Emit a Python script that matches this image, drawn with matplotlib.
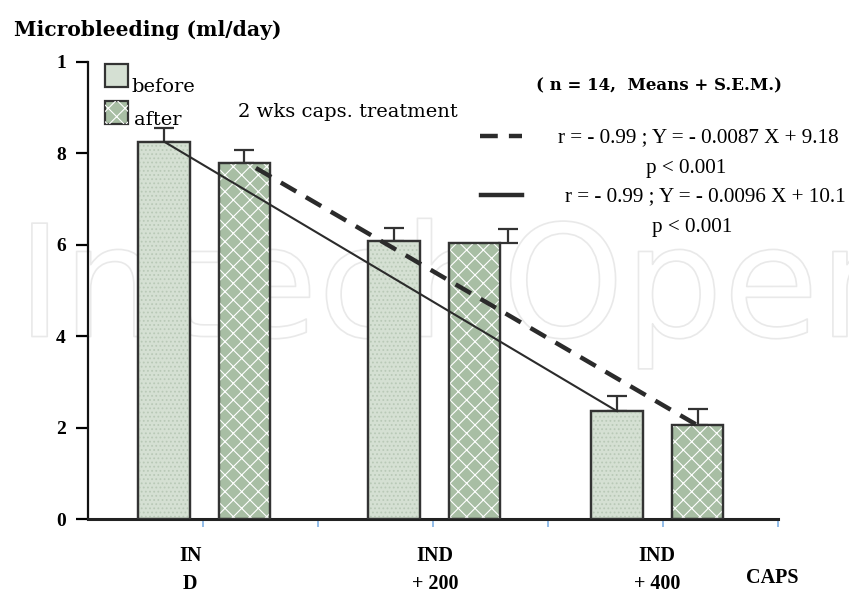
import matplotlib.pyplot as plt
import matplotlib.patheffects as pe
import numpy as np

# data
groups = ["IN\nD", "IND\n+ 200", "IND\n+ 400"]
before = [8.26, 6.08, 2.36]
after = [7.80, 6.05, 2.05]
before_sem = [0.30, 0.28, 0.33]
after_sem = [0.28, 0.29, 0.35]
ytick_vals = [0, 2, 4, 6, 8, 10]
ytick_text = ["0", "2", "4", "6", "8", "1"]

plt.rcParams["font.family"] = ["Liberation Serif", "DejaVu Serif"]
plt.rcParams["hatch.linewidth"] = 0.8
wide = ["DejaVu Serif"]

fig = plt.figure(figsize=(8.49, 5.93), dpi=100)
ax = fig.add_axes([88 / 849, 1 - 519 / 593, 690 / 849, (519 - 62) / 593])
ax.patch.set_alpha(0)

centers = np.array([1.0, 3.0, 4.94])
xb = centers - 0.34
xa = centers + 0.36
w = 0.45
edge = "#333333"

# faint watermark behind everything
wm = fig.text(0.55, 0.505, "IntechOpen", fontsize=112, ha="center", va="center",
              color="none", family="DejaVu Sans", zorder=-5,
              path_effects=[pe.withStroke(linewidth=1.2, foreground="#e9e9e9")])

ax.bar(xb, before, w, color="#d5e0d3", edgecolor=edge, lw=1.6, zorder=2)
ax.bar(xb, before, w, color="none", edgecolor="#b9c9b7", hatch="....", lw=0, zorder=2)
ax.bar(xa, after, w, color="#a8bea4", edgecolor=edge, lw=1.6, zorder=2)
ax.bar(xa, after, w, color="none", edgecolor="white", hatch="xx", lw=0, zorder=2)
ax.bar(xb, before, w, color="none", edgecolor=edge, lw=1.6, zorder=3)
ax.bar(xa, after, w, color="none", edgecolor=edge, lw=1.6, zorder=3)

# only + SEM shown
eb_x = xa.copy()
eb_x[1] = xa[1] + 0.29
ax.errorbar(xb, before, yerr=[np.zeros(3), before_sem], fmt="none",
            ecolor=edge, elinewidth=1.6, capsize=7, capthick=1.6, zorder=1)
ax.errorbar(eb_x, after, yerr=[np.zeros(3), after_sem], fmt="none",
            ecolor=edge, elinewidth=1.6, capsize=7, capthick=1.6, zorder=1)

# regression lines
ax.plot([xb[0], xb[2]], [before[0], before[2]], color="#2b2b2b", lw=1.5, zorder=4)
ax.plot([xa[0] + 0.1, xa[2]], [after[0] - 0.12, after[2]], color="#2b2b2b", lw=3.2,
        dashes=(4, 2.5), zorder=4)

ax.set_xlim(0, 6)
ax.set_ylim(0, 10)
for s in ["top", "right"]:
    ax.spines[s].set_visible(False)
ax.spines["left"].set_linewidth(1.6)
ax.spines["bottom"].set_linewidth(2.2)
ax.spines["left"].set_color("#111111")
ax.spines["bottom"].set_color("#222222")

ax.set_yticks(ytick_vals)
ax.set_yticklabels(ytick_text, fontsize=14, fontweight="bold")
ax.tick_params(axis="y", length=9, width=1.6, pad=7)
ax.set_xticks(np.arange(1, 7))
ax.set_xticklabels([])
ax.tick_params(axis="x", length=6, width=1.2, color="#7fb2e5")

for c, lab in zip([0.89, 3.02, 4.95], groups):
    top, bot = lab.split("\n")
    ax.text(c, -0.82, top, ha="center", va="center", fontsize=14.5, fontweight="bold")
    ax.text(c, -1.42, bot, ha="center", va="center", fontsize=14.5, fontweight="bold")
ax.text(5.95, -1.3, "CAPS", ha="center", va="center", fontsize=14.5, fontweight="bold")

# legend
ax.bar(0.25, 0.5, 0.2, bottom=9.45, color="#d5e0d3", edgecolor=edge, lw=1.6,
       clip_on=False, zorder=2)
ax.bar(0.25, 0.5, 0.2, bottom=8.65, color="#a8bea4", edgecolor=edge, lw=1.6,
       clip_on=False, zorder=2)
ax.bar(0.25, 0.5, 0.2, bottom=8.65, color="none", edgecolor="white", hatch="xx",
       lw=0, clip_on=False, zorder=2)
ax.text(0.38, 9.45, "before", fontsize=14, va="center", family=wide)
ax.text(0.40, 8.72, "after", fontsize=14, va="center", family=wide)

fig.text(14 / 849, 1 - 30 / 593, "Microbleeding (ml/day)", fontsize=14.6,
         fontweight="bold", va="center", family=wide)
fig.text(238 / 849, 1 - 112 / 593, "2 wks caps. treatment", fontsize=14, va="center",
         family=wide)
fig.text(659 / 849, 1 - 86 / 593, "( n = 14,  Means + S.E.M.)", fontsize=12,
         fontweight="bold", va="center", ha="center", family=wide)

fig.lines.append(plt.Line2D([480 / 849, 522 / 849], [1 - 136 / 593] * 2,
                            transform=fig.transFigure, color="#2b2b2b", lw=3.2,
                            dashes=(4, 2.5)))
fig.lines.append(plt.Line2D([481 / 849, 522 / 849], [1 - 195 / 593] * 2,
                            transform=fig.transFigure, color="#2b2b2b", lw=3.2))
fig.text(558 / 849, 1 - 138 / 593, "r = - 0.99 ; Y = - 0.0087 X + 9.18", fontsize=15.2,
         va="center", ha="left")
fig.text(686 / 849, 1 - 168 / 593, "p < 0.001", fontsize=15.2, va="center", ha="center")
fig.text(565 / 849, 1 - 197 / 593, "r = - 0.99 ; Y = - 0.0096 X + 10.1", fontsize=15.2,
         va="center", ha="left")
fig.text(692 / 849, 1 - 228 / 593, "p < 0.001", fontsize=15.2, va="center", ha="center")

fig.savefig("out.png", dpi=100)
